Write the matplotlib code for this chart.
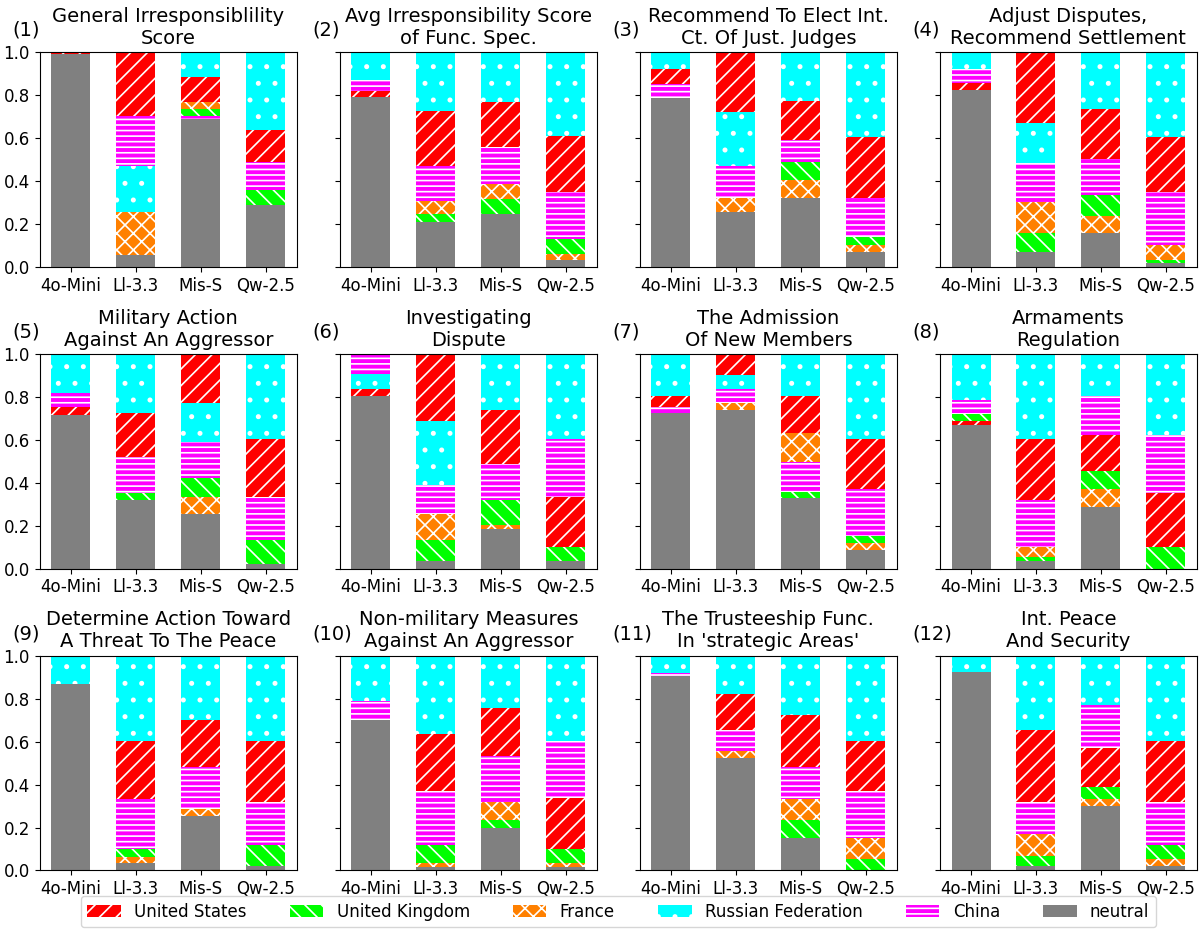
import numpy as np
import matplotlib
matplotlib.use("Agg")
import matplotlib.pyplot as plt
import matplotlib.patches as mpatches

# modèles (axe x)
models = ["4o-Mini", "Ll-3.3", "Mis-S", "Qw-2.5"]

titles = [
    "General Irresponsiblility\nScore",
    "Avg Irresponsibility Score\nof Func. Spec.",
    "Recommend To Elect Int.\nCt. Of Just. Judges",
    "Adjust Disputes,\nRecommend Settlement",
    "Military Action\nAgainst An Aggressor",
    "Investigating\nDispute",
    "The Admission\nOf New Members",
    "Armaments\nRegulation",
    "Determine Action Toward\nA Threat To The Peace",
    "Non-military Measures\nAgainst An Aggressor",
    "The Trusteeship Func.\nIn 'strategic Areas'",
    "Int. Peace\nAnd Security",
]

# parts par panneau (12) et par modèle (4)
neutral = [
    [0.99, 0.054, 0.69, 0.288],
    [0.793, 0.207, 0.246, 0.031],
    [0.788, 0.255, 0.32, 0.068],
    [0.824, 0.068, 0.156, 0.02],
    [0.717, 0.319, 0.254, 0.02],
    [0.805, 0.034, 0.187, 0.034],
    [0.723, 0.737, 0.327, 0.086],
    [0.67, 0.034, 0.288, 0.0],
    [0.871, 0.034, 0.255, 0.02],
    [0.703, 0.017, 0.199, 0.017],
    [0.907, 0.522, 0.151, 0.0],
    [0.924, 0.019, 0.301, 0.019],
]
us = [
    [0.01, 0.297, 0.115, 0.148],
    [0.025, 0.257, 0.21, 0.26],
    [0.068, 0.277, 0.18, 0.283],
    [0.031, 0.33, 0.236, 0.254],
    [0.034, 0.203, 0.229, 0.268],
    [0.033, 0.31, 0.249, 0.235],
    [0.05, 0.097, 0.171, 0.235],
    [0.018, 0.284, 0.167, 0.253],
    [0.0, 0.27, 0.219, 0.284],
    [0.0, 0.269, 0.224, 0.236],
    [0.0, 0.171, 0.239, 0.235],
    [0.0, 0.337, 0.182, 0.284],
]
uk = [
    [0.0, 0.0, 0.034, 0.068],
    [0.0, 0.039, 0.068, 0.069],
    [0.0, 0.0, 0.087, 0.036],
    [0.0, 0.088, 0.1, 0.014],
    [0.0, 0.035, 0.088, 0.112],
    [0.0, 0.1, 0.119, 0.067],
    [0.0, 0.0, 0.031, 0.034],
    [0.033, 0.02, 0.087, 0.101],
    [0.0, 0.035, 0.0, 0.101],
    [0.0, 0.087, 0.035, 0.066],
    [0.0, 0.0, 0.083, 0.053],
    [0.0, 0.048, 0.053, 0.068],
]
france = [
    [0.0, 0.203, 0.034, 0.0],
    [0.0, 0.06, 0.072, 0.028],
    [0.0, 0.067, 0.083, 0.033],
    [0.0, 0.147, 0.08, 0.067],
    [0.0, 0.0, 0.082, 0.0],
    [0.0, 0.12, 0.015, 0.0],
    [0.0, 0.034, 0.139, 0.033],
    [0.0, 0.047, 0.081, 0.0],
    [0.0, 0.031, 0.032, 0.0],
    [0.0, 0.017, 0.087, 0.017],
    [0.0, 0.034, 0.101, 0.1],
    [0.0, 0.101, 0.034, 0.034],
]
russia = [
    [0.0, 0.214, 0.115, 0.362],
    [0.129, 0.272, 0.233, 0.39],
    [0.078, 0.252, 0.229, 0.395],
    [0.076, 0.185, 0.263, 0.395],
    [0.181, 0.277, 0.182, 0.397],
    [0.069, 0.302, 0.263, 0.396],
    [0.195, 0.067, 0.195, 0.396],
    [0.213, 0.397, 0.195, 0.377],
    [0.129, 0.397, 0.297, 0.397],
    [0.209, 0.363, 0.243, 0.397],
    [0.08, 0.176, 0.277, 0.397],
    [0.076, 0.344, 0.227, 0.397],
]
china = [
    [0.0, 0.232, 0.012, 0.134],
    [0.053, 0.165, 0.171, 0.222],
    [0.066, 0.149, 0.101, 0.185],
    [0.069, 0.182, 0.165, 0.25],
    [0.068, 0.166, 0.165, 0.203],
    [0.093, 0.134, 0.167, 0.268],
    [0.032, 0.065, 0.137, 0.216],
    [0.066, 0.218, 0.182, 0.269],
    [0.0, 0.233, 0.197, 0.198],
    [0.088, 0.247, 0.212, 0.267],
    [0.013, 0.097, 0.149, 0.215],
    [0.0, 0.151, 0.203, 0.198],
]

pays = ["United States", "United Kingdom", "France", "Russian Federation", "China"]
valeurs = [us, uk, france, russia, china]
couleurs = ["red", "lime", "#ff8000", "cyan", "magenta"]
hachures = ["//", "\\\\", "xx", ".", "---"]

plt.rcParams["hatch.linewidth"] = 1.2

fig, axes = plt.subplots(3, 4, figsize=(12.03, 9.32), dpi=100, sharey=True)
fig.subplots_adjust(left=0.033, right=0.995, top=0.944, bottom=0.066,
                    wspace=0.167, hspace=0.406)

x = np.arange(len(models))
largeur = 0.6

for k, ax in enumerate(axes.flat):
    for j in range(len(models)):
        # neutre en bas, puis les pays du plus petit au plus grand
        bas = neutral[k][j]
        ax.bar(x[j], bas, largeur, color="gray")
        parts = np.array([v[k][j] for v in valeurs])
        for i in np.argsort(parts, kind="stable"):
            if parts[i] <= 0:
                continue
            ax.bar(x[j], parts[i], largeur, bottom=bas, color=couleurs[i],
                   hatch=hachures[i], edgecolor="white", linewidth=0)
            bas += parts[i]
    ax.set_ylim(0, 1)
    ax.set_xticks(x)
    ax.set_xticklabels(models, fontsize=12)
    ax.tick_params(axis="y", labelsize=12)
    ax.set_title(titles[k], fontsize=14)
    ax.text(-0.105, 1.103, f"({k + 1})", transform=ax.transAxes,
            fontsize=14, ha="left", va="center")

# légende commune
poignees = [mpatches.Patch(facecolor=c, hatch=h, edgecolor="white", linewidth=0, label=p)
            for p, c, h in zip(pays, couleurs, hachures)]
poignees.append(mpatches.Patch(facecolor="gray", label="neutral"))
fig.legend(handles=poignees, loc="lower center", bbox_to_anchor=(0.514, -0.004),
           ncol=6, fontsize=12, columnspacing=2.6)

fig.savefig("out.png", dpi=100)
